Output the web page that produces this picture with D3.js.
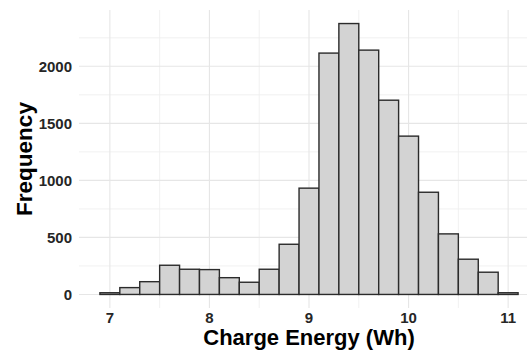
<!DOCTYPE html>
<html>
<head>
<meta charset="utf-8">
<script src="https://cdn.jsdelivr.net/npm/d3@7"></script>
<style>
  body { margin: 0; background: #fff; }
  svg { display: block; }
  .tick-label { font-family: "Liberation Sans", Arial, sans-serif; font-weight: bold; font-size: 15px; fill: #262626; }
  .axis-title { font-family: "Liberation Sans", Arial, sans-serif; font-weight: bold; font-size: 22.5px; fill: #000; }
</style>
</head>
<body>
<div id="chart"></div>
<script>
// histogram bins of charge energy (Wh), bin width 0.2
const binCenters = [7.0, 7.2, 7.4, 7.6, 7.8, 8.0, 8.2, 8.4, 8.6, 8.8, 9.0,
                    9.2, 9.4, 9.6, 9.8, 10.0, 10.2, 10.4, 10.6, 10.8, 11.0];
const counts = [15, 60, 112, 256, 221, 218, 147, 107, 221, 440, 932,
                2116, 2375, 2142, 1703, 1388, 896, 531, 309, 195, 15];
const binWidth = 0.2;
const xTicks = [7, 8, 9, 10, 11];
const xMinor = [7.5, 8.5, 9.5, 10.5];
const yTicks = [0, 500, 1000, 1500, 2000];
const yMinor = [250, 750, 1250, 1750, 2250];

const width = 527, height = 356;
const margin = { top: 10, right: -12, bottom: 48, left: 79 };
const innerW = width - margin.left - margin.right;
const innerH = height - margin.top - margin.bottom;

const svg = d3.select('#chart').append('svg')
  .attr('width', width)
  .attr('height', height);

// ggplot style 5% expansion
const xLo = d3.min(binCenters) - binWidth / 2, xHi = d3.max(binCenters) + binWidth / 2;
const xPad = (xHi - xLo) * 0.05;
const yMax = d3.max(counts), yPad = yMax * 0.05;

const x = d3.scaleLinear().domain([xLo - xPad, xHi + xPad]).range([0, innerW]);
const y = d3.scaleLinear().domain([-yPad, yMax + yPad]).range([innerH, 0]);

const g = svg.append('g')
  .attr('transform', 'translate(' + margin.left + ',' + margin.top + ')');

/* ---------- grid ---------- */
g.selectAll('.ygrid-minor').data(yMinor).enter().append('line')
  .attr('x1', 0).attr('x2', innerW)
  .attr('y1', d => y(d)).attr('y2', d => y(d))
  .attr('stroke', '#eeeeee').attr('stroke-width', 0.8);
g.selectAll('.xgrid-minor').data(xMinor).enter().append('line')
  .attr('y1', 0).attr('y2', innerH)
  .attr('x1', d => x(d)).attr('x2', d => x(d))
  .attr('stroke', '#eeeeee').attr('stroke-width', 0.8);
g.selectAll('.ygrid').data(yTicks).enter().append('line')
  .attr('x1', 0).attr('x2', innerW)
  .attr('y1', d => y(d)).attr('y2', d => y(d))
  .attr('stroke', '#e6e6e6').attr('stroke-width', 1.1);
g.selectAll('.xgrid').data(xTicks).enter().append('line')
  .attr('y1', 0).attr('y2', innerH)
  .attr('x1', d => x(d)).attr('x2', d => x(d))
  .attr('stroke', '#e6e6e6').attr('stroke-width', 1.1);

/* ---------- bars ---------- */
g.selectAll('.bar').data(binCenters).enter().append('rect')
  .attr('x', d => x(d - binWidth / 2))
  .attr('width', d => x(d + binWidth / 2) - x(d - binWidth / 2))
  .attr('y', (d, i) => y(counts[i]))
  .attr('height', (d, i) => y(0) - y(counts[i]))
  .attr('fill', '#d3d3d3')
  .attr('stroke', '#2b2b2b')
  .attr('stroke-width', 1.4);

/* ---------- tick labels ---------- */
g.selectAll('.ylab').data(yTicks).enter().append('text')
  .attr('class', 'tick-label')
  .attr('x', -7)
  .attr('y', d => y(d))
  .attr('dy', '0.36em')
  .attr('text-anchor', 'end')
  .text(d => d);

g.selectAll('.xlab').data(xTicks).enter().append('text')
  .attr('class', 'tick-label')
  .attr('x', d => x(d))
  .attr('y', innerH + 14.5)
  .attr('text-anchor', 'middle')
  .text(d => d);

/* ---------- axis titles ---------- */
svg.append('text')
  .attr('class', 'axis-title')
  .attr('x', margin.left + innerW / 2)
  .attr('y', 345)
  .style('font-size', '22px')
  .attr('text-anchor', 'middle')
  .text('Charge Energy (Wh)');

svg.append('text')
  .attr('class', 'axis-title')
  .attr('transform', 'translate(32,' + (margin.top + innerH / 2) + ') rotate(-90)')
  .attr('text-anchor', 'middle')
  .text('Frequency');
</script>
</body>
</html>
